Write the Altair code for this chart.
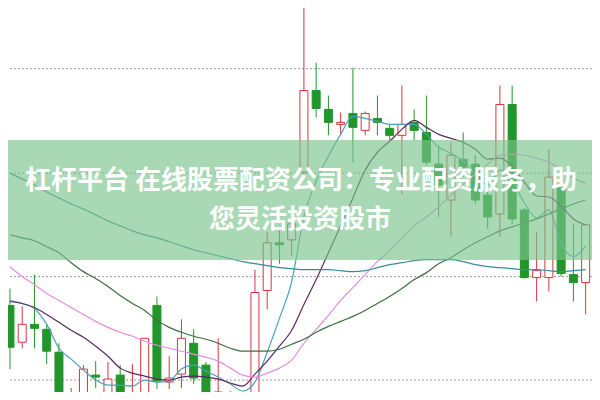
import altair as alt
import pandas as pd

# ---------------- data ----------------
idx = list(range(48))
open_ = [19.1, 15.4, 17.2, 16.7, 14.4, 8.5, 9.2, 12.1, 9.0, 12.1, 8.8, 9.0, 19.1, 11.4, 12.2, 15.3,
         13.1, 10.2, 10.3, 9.5, 9.0, 20.6, 25.4, 25.7, 32.5, 40.7, 38.8, 37.3, 38.4, 36.7, 37.9, 36.9,
         36.2, 37.5, 36.5, 33.3, 29.7, 33.8, 33.3, 30.2, 28.3, 39.3, 28.7, 21.9, 21.9, 31.0, 22.2, 21.4]
high = [20.8, 19.0, 22.2, 17.2, 15.3, 10.8, 13.1, 13.5, 13.4, 13.1, 13.2, 15.8, 20.0, 14.0, 17.7, 16.7,
        13.4, 15.8, 10.5, 9.8, 22.7, 26.5, 26.7, 28.3, 49.0, 43.5, 40.2, 38.5, 43.0, 38.6, 40.2, 37.3,
        41.2, 38.8, 40.2, 35.2, 35.5, 36.5, 34.2, 32.0, 41.2, 41.2, 28.9, 26.5, 34.8, 32.5, 27.3, 27.3]
low = [12.7, 14.8, 14.8, 13.2, 9.0, 8.0, 8.8, 10.8, 8.5, 8.8, 8.5, 8.8, 10.7, 10.7, 10.8, 11.2,
       9.8, 9.5, 9.0, 8.2, 8.8, 18.7, 23.3, 24.1, 32.2, 38.0, 36.2, 36.3, 33.5, 36.2, 36.2, 35.7,
       30.3, 35.7, 33.2, 28.0, 26.0, 32.0, 29.3, 26.8, 26.0, 27.3, 21.8, 19.5, 20.5, 22.0, 19.5, 18.2]
close = [14.9, 17.2, 16.8, 14.5, 9.5, 9.8, 12.7, 11.9, 11.7, 9.2, 9.8, 15.8, 11.5, 11.8, 15.8, 11.8,
         10.3, 10.4, 9.5, 8.8, 20.4, 25.4, 25.2, 27.3, 40.7, 38.9, 37.5, 37.5, 37.0, 38.4, 37.5, 36.2,
         37.3, 36.7, 33.5, 31.2, 34.2, 33.0, 29.7, 28.0, 39.3, 27.8, 21.9, 22.6, 32.0, 22.3, 21.4, 27.2]

ma5 = [19.6, 19.3, 18.8, 17.2, 14.8, 13.7, 12.6, 11.6, 11.1, 11.1, 11.0, 11.6, 11.4, 11.5, 12.7, 13.1,
       12.5, 11.9, 11.2, 10.5, 11.4, 14.4, 17.8, 21.5, 28.0, 31.6, 34.1, 36.3, 38.1, 37.9, 37.6, 37.3,
       37.3, 37.3, 36.3, 35.0, 34.4, 33.6, 32.3, 31.2, 32.7, 31.6, 29.4, 27.9, 28.7, 25.3, 24.0, 25.1]
ma10 = [19.5, 19.3, 18.9, 18.2, 17.4, 16.6, 15.9, 15.0, 14.0, 12.8, 12.3, 12.0, 11.7, 11.6, 11.9, 12.0,
        11.9, 11.7, 11.3, 11.0, 12.2, 13.5, 15.0, 16.6, 19.2, 21.7, 24.4, 27.1, 29.9, 32.7, 34.5, 35.6,
        36.8, 37.7, 37.0, 36.3, 35.9, 35.5, 34.8, 33.8, 33.9, 33.1, 31.5, 30.1, 30.0, 29.1, 27.8, 27.2]
ma20 = [23.0, 22.0, 21.2, 20.3, 19.6, 18.9, 18.2, 17.5, 16.9, 16.4, 16.0, 15.5, 15.1, 14.8, 14.5, 14.2,
        13.9, 13.5, 12.8, 12.1, 11.9, 12.3, 12.8, 13.6, 15.3, 16.7, 18.1, 19.6, 20.9, 22.2, 23.5, 24.6,
        25.9, 27.1, 28.0, 29.0, 30.2, 31.3, 32.3, 33.3, 34.2, 34.3, 34.2, 33.9, 33.5, 32.7, 31.9, 31.4]
ma30 = [26.2, 25.9, 25.6, 25.0, 24.4, 23.4, 22.5, 21.8, 21.0, 20.1, 19.3, 18.6, 17.6, 16.9, 16.4, 16.0,
        15.7, 15.3, 14.8, 14.5, 14.5, 14.5, 14.7, 15.2, 15.7, 16.4, 17.0, 17.5, 18.0, 18.6, 19.3, 20.0,
        20.8, 21.7, 22.4, 23.3, 23.9, 24.7, 25.4, 26.0, 26.6, 27.0, 27.4, 27.8, 28.3, 28.8, 29.3, 29.7]
ma60 = [32.4, 31.8, 31.2, 30.5, 29.9, 29.3, 28.8, 28.2, 27.6, 27.1, 26.6, 26.2, 25.9, 25.5, 25.1, 24.7,
        24.4, 24.1, 23.8, 23.5, 23.3, 23.1, 22.9, 22.8, 22.7, 22.7, 22.7, 22.6, 22.5, 22.6, 22.9, 23.2,
        23.4, 23.6, 23.7, 23.7, 23.7, 23.5, 23.2, 23.0, 22.9, 22.8, 22.7, 22.7, 22.6, 22.5, 22.6, 22.7]

grid_levels = [42.9, 32.4, 22.0, 11.6]
title_lines = ["杠杆平台 在线股票配资公司：专业配资服务，助", "您灵活投资股市"]

# ---------------- styling ----------------
RED = "#d8343f"
GREEN = "#22962a"
MA_NAMES = ["MA5", "MA10", "MA20", "MA30", "MA60"]
MA_COLORS = ["#4aa0b4", "#5b2a5e", "#e48ee0", "#3b6e3f", "#3a8c9c"]
W, H = 584, 384

candles = pd.DataFrame({"idx": idx, "open": open_, "high": high, "low": low, "close": close})
candles["dir"] = ["up" if c >= o else "down" for o, c in zip(open_, close)]

ma_rows = []
for name, series in zip(MA_NAMES, [ma5, ma10, ma20, ma30, ma60]):
    for i, v in zip(idx, series):
        ma_rows.append({"idx": i, "ma": name, "value": v})
mas = pd.DataFrame(ma_rows)

xsc = alt.Scale(domain=[-0.16, 47.52], nice=False, zero=False, padding=0)
ysc = alt.Scale(domain=[10.4, 49.0], nice=False, zero=False, padding=0)
dir_stroke = alt.Scale(domain=["up", "down"], range=[RED, GREEN])
dir_fill = alt.Scale(domain=["up", "down"], range=["#ffffff", GREEN])

grid = alt.Chart(pd.DataFrame({"level": grid_levels})).mark_rule(
    color="#9a9a9a", strokeDash=[2, 2], strokeWidth=1
).encode(y=alt.Y("level:Q", scale=ysc, axis=None))

wicks = alt.Chart(candles).mark_rule(strokeWidth=1, clip=True).encode(
    x=alt.X("idx:Q", scale=xsc, axis=None),
    y=alt.Y("low:Q", scale=ysc, axis=None),
    y2="high:Q",
    stroke=alt.Stroke("dir:N", scale=dir_stroke, legend=None),
)

bodies = alt.Chart(candles).mark_bar(size=8, strokeWidth=1, clip=True).encode(
    x=alt.X("idx:Q", scale=xsc, axis=None),
    y=alt.Y("open:Q", scale=ysc, axis=None),
    y2="close:Q",
    stroke=alt.Stroke("dir:N", scale=dir_stroke, legend=None),
    fill=alt.Fill("dir:N", scale=dir_fill, legend=None),
)

lines = alt.Chart(mas).mark_line(strokeWidth=1.2, clip=True, interpolate="monotone").encode(
    x=alt.X("idx:Q", scale=xsc, axis=None),
    y=alt.Y("value:Q", scale=ysc, axis=None),
    color=alt.Color("ma:N", scale=alt.Scale(domain=MA_NAMES, range=MA_COLORS), legend=None),
    detail="ma:N",
)

banner = alt.Chart(pd.DataFrame({"k": [0]})).mark_rect(color="#79c38c", opacity=0.65).encode(
    x=alt.value(0), x2=alt.value(W), y=alt.value(132), y2=alt.value(252)
)

text1 = alt.Chart(pd.DataFrame({"t": [title_lines[0]]})).mark_text(
    font="Noto Sans CJK SC", fontWeight="bold", fontSize=26, color="white",
    align="center", baseline="middle"
).encode(x=alt.value(293), y=alt.value(173), text="t:N")

text2 = alt.Chart(pd.DataFrame({"t": [title_lines[1]]})).mark_text(
    font="Noto Sans CJK SC", fontWeight="bold", fontSize=26, color="white",
    align="center", baseline="middle"
).encode(x=alt.value(292), y=alt.value(212), text="t:N")

chart = alt.layer(grid, wicks, bodies, lines, banner, text1, text2).properties(
    width=W, height=H, autosize=alt.AutoSizeParams(type="none"), padding=0,
    background="white"
).configure_view(stroke=None)

chart.save("out.html", embed_options={"renderer": "svg", "actions": False})
